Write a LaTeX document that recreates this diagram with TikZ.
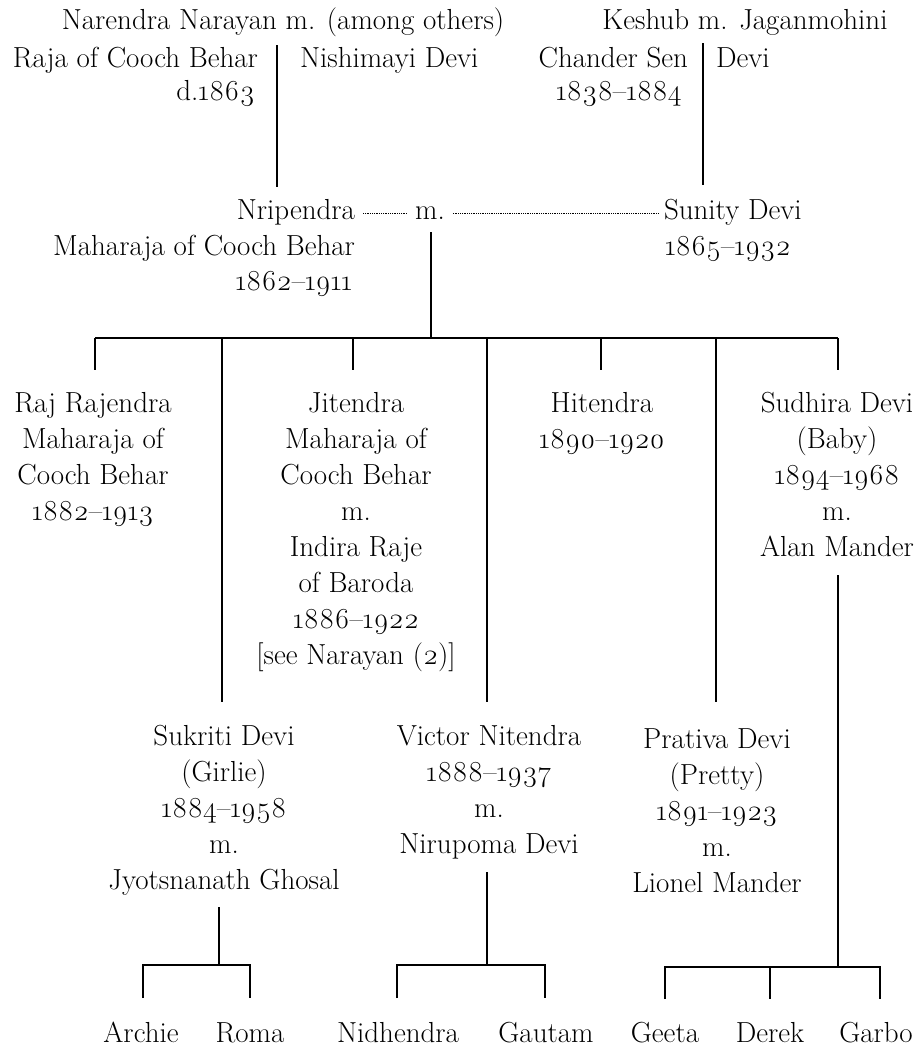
\documentclass[tikz,border=0pt]{standalone}
\usepackage{fontspec}
\setmainfont{Latin Modern Roman}[Numbers=OldStyle]
\newcommand\topstrut{\rule{0pt}{23pt}}
\begin{document}
\begin{tikzpicture}[x=1pt,y=-1pt,
  lbl/.style={inner sep=0pt, outer sep=0pt, font=\fontsize{29}{36}\selectfont},
  blk/.style={lbl, align=center, anchor=north},
  ln/.style={line width=1.3pt},
  leader/.style={line width=1pt, dash pattern=on 0.8pt off 1pt}]
\path[use as bounding box] (0,0) rectangle (918,1047);

% ---------- generation 0
\node[lbl,anchor=base] (nar) at (283,29) {Narendra Narayan m. (among others)};
\node[lbl,anchor=base east] (raja) at (258,67) {Raja of Cooch Behar};
\node[lbl,anchor=base east] (nard) at (255,100) {d.1863};
\node[lbl,anchor=base west] (nish) at (300,67) {Nishimayi Devi};
\node[lbl,anchor=base] (kes) at (745,29) {Keshub m. Jaganmohini};
\node[lbl,anchor=base east] (chan) at (688,67) {Chander Sen};
\node[lbl,anchor=base] (kesd) at (619,100) {1838--1884};
\node[lbl,anchor=base west] (jag) at (716,67) {Devi};

\coordinate (narT) at (277,45);
\coordinate (narB) at (277,187);
\coordinate (kesT) at (703,43);
\coordinate (kesB) at (703,185);
\draw[ln] (narT) -- (narB);
\draw[ln] (kesT) -- (kesB);

% ---------- generation 1
\node[lbl,anchor=base east] (nrip) at (355,219) {Nripendra};
\node[lbl,anchor=base] (mar) at (430,219) {m.};
\node[lbl,anchor=base west] (sun) at (664,219) {Sunity Devi};
\node[lbl,anchor=base east] (nript) at (355,255) {Maharaja of Cooch Behar};
\node[lbl,anchor=base east] (nripd) at (352,290) {1862--1911};
\node[lbl,anchor=base west] (sund) at (665,255) {1865--1932};

\draw[leader] ([xshift=8pt,yshift=6pt]nrip.base east) -- ([xshift=-8pt,yshift=6pt]mar.base west);
\draw[leader] ([xshift=8pt,yshift=6pt]mar.base east) -- ([xshift=-5pt,yshift=6pt]sun.base west);

\coordinate (marB) at (431,232);
\coordinate (bar1) at (431,338);
\draw[ln] (marB) -- (bar1);
\draw[ln] (95,338) coordinate (barL) -- (838,338) coordinate (barR);

% ---------- generation 2
\node[blk] (rr) at (93,389) {\topstrut Raj Rajendra\\Maharaja of\\Cooch Behar\\1882--1913};
\node[blk] (jit) at (356,389) {\topstrut Jitendra\\Maharaja of\\Cooch Behar\\m.\\Indira Raje\\of Baroda\\1886--1922\\{[see Narayan (2)]}};
\node[blk] (hit) at (602,389) {\topstrut Hitendra\\1890--1920};
\node[blk] (sud) at (837,389) {\topstrut Sudhira Devi\\(Baby)\\1894--1968\\m.\\Alan Mander};

\draw[ln] (95,338) -- (95,370) coordinate (rrT);
\draw[ln] (353,338) -- (353,370) coordinate (jitT);
\draw[ln] (601,338) -- (601,370) coordinate (hitT);
\draw[ln] (838,338) -- (838,370) coordinate (sudT);
\draw[ln] (222,338) -- (222,702) coordinate (sukT);
\draw[ln] (487,338) -- (487,702) coordinate (vicT);
\draw[ln] (716,338) -- (716,702) coordinate (praT);

% ---------- generation 3
\node[blk] (suk) at (224,722) {\topstrut Sukriti Devi\\(Girlie)\\1884--1958\\m.\\Jyotsnanath Ghosal};
\node[blk] (vic) at (489,722) {\topstrut Victor Nitendra\\1888--1937\\m.\\Nirupoma Devi};
\node[blk] (pra) at (717,725) {\topstrut Prativa Devi\\(Pretty)\\1891--1923\\m.\\Lionel Mander};

% Sukriti's children
\draw[ln] (219,907) coordinate (sukB) -- (219,965) coordinate (sukJ);
\draw[ln] (143,998) coordinate (archT) -- (143,965) -- (250,965) -- (250,998) coordinate (romaT);
% Victor's children
\draw[ln] (487,872) coordinate (vicB) -- (487,965) coordinate (vicJ);
\draw[ln] (397,998) coordinate (nidT) -- (397,965) -- (545,965) -- (545,998) coordinate (gauT);
% Sudhira's children
\draw[ln] (838,575) coordinate (sudB) -- (838,967) coordinate (sudJ);
\draw[ln] (665,999) coordinate (geeT) -- (665,967) -- (880,967) -- (880,999) coordinate (garT);
\draw[ln] (770,967) -- (770,999) coordinate (derT);

% ---------- generation 4
\node[lbl,anchor=base] (archie) at (141,1042) {Archie};
\node[lbl,anchor=base] (roma) at (250,1042) {Roma};
\node[lbl,anchor=base] (nidh) at (398,1042) {Nidhendra};
\node[lbl,anchor=base] (gaut) at (546,1042) {Gautam};
\node[lbl,anchor=base] (geeta) at (665,1042) {Geeta};
\node[lbl,anchor=base] (derek) at (770,1042) {Derek};
\node[lbl,anchor=base] (garbo) at (876,1042) {Garbo};
\end{tikzpicture}
\end{document}
